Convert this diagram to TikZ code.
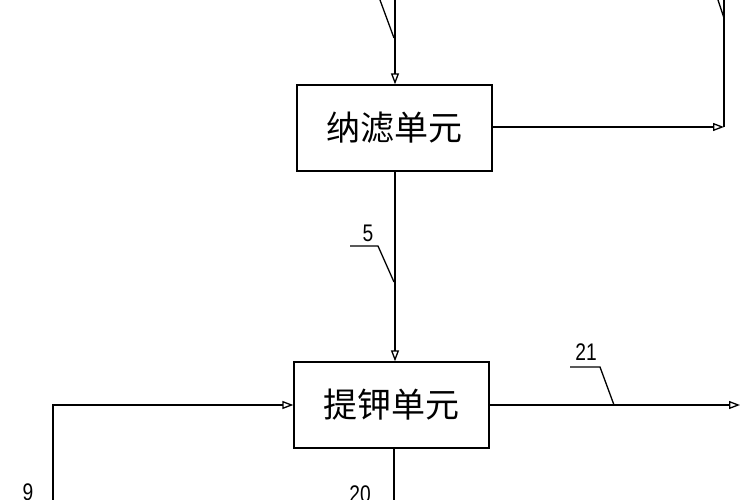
\documentclass[tikz,border=0pt]{standalone}
\usepackage{fontspec}
\setmainfont{Liberation Sans}
\newfontfamily\cjk{Noto Sans CJK SC}
\usetikzlibrary{arrows.meta}
\begin{document}
\begin{tikzpicture}[x=1pt,y=-1pt,line width=1.3pt,
  flow/.style={-{Triangle[open,length=11pt,width=8pt]}},
  unit/.style={draw,minimum width=195pt,minimum height=86pt,inner sep=0pt,font=\cjk\fontsize{34}{34}\selectfont},
  num/.style={font=\fontsize{24}{24}\selectfont,inner sep=0pt,xscale=0.8}]
\useasboundingbox (0,0) rectangle (750,500);
\node[unit] (nf) at (394.5,128) {纳滤单元};
\node[unit] (k) at (391.5,405) {提钾单元};
\coordinate (in1) at (395,0);
\coordinate (tr) at (724,0);
\coordinate (trc) at (724,127);
\coordinate (l9) at (53,500);
\coordinate (l9c) at (53,405);
\coordinate (out21) at (740,405);
\coordinate (b20) at (394,500);
\draw[flow] (in1) -- (nf.north -| in1);
\draw[flow] (nf.east |- trc) -- (trc);
\draw (trc) -- (tr);
\draw[flow] (nf.south -| in1) -- (k.north -| in1);
\draw[flow] (l9) -- (l9c) -- (k.west |- l9c);
\draw[flow] (k.east |- out21) -- (out21);
\draw (k.south -| b20) -- (b20);
\draw (380,0) -- (394,38);
\draw (718,0) -- (724,18);
\node[num] (n5) at (368,233) {5};
\draw (350,246) -- (378,246) -- (394,282);
\node[num] (n21) at (586,352) {21};
\draw (570,367) -- (600,367) -- (614,405);
\node[num] (n9) at (28,492) {9};
\node[num] (n20) at (360,494) {20};
\end{tikzpicture}
\end{document}
